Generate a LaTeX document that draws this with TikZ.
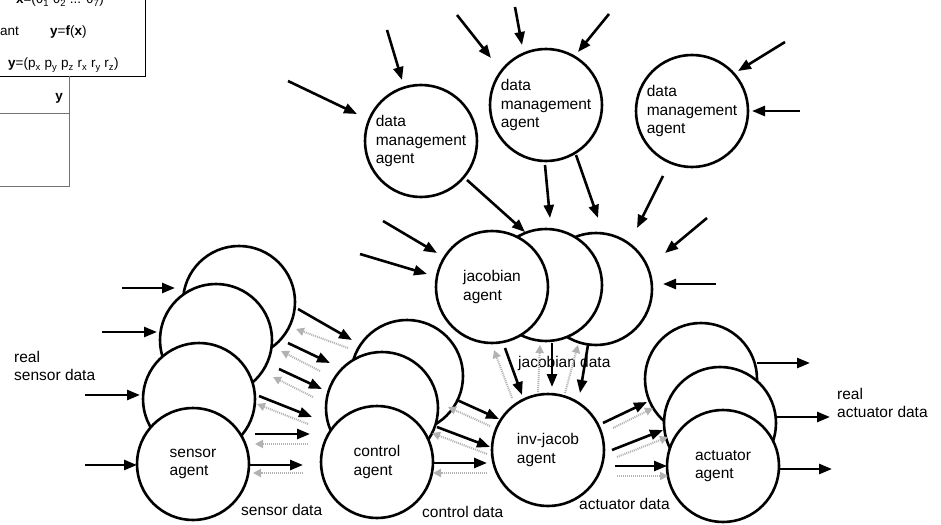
\documentclass[tikz,border=0pt]{standalone}
\usepackage{fontspec}
\setmainfont{Liberation Sans}
\usetikzlibrary{arrows.meta, calc}

\tikzset{
  agent/.style={circle, draw, line width=2.6pt, fill=white, minimum size=112pt,
    inner sep=0pt, align=left},
  flow/.style={line width=2.6pt, -{Triangle[length=13pt,width=10pt]}},
  reply/.style={gray!60, line width=2pt, dash pattern=on 1pt off 1pt,
    -{Triangle[length=8pt,width=8pt]}},
  lbl/.style={inner sep=0pt, align=left, anchor=west},
  tbl/.style={inner sep=0pt, font=\fontsize{13.5}{16}\selectfont},
}

\begin{document}
\begin{tikzpicture}[x=1pt, y=-1pt, font=\fontsize{15.5}{18.5}\selectfont]
\useasboundingbox (0,0) rectangle (941,524);
\clip (0,0) rectangle (941,524);
\fill[white] (0,0) rectangle (941,524);

% cut-off table in the corner
\draw[line width=0.8pt] (-20,-20) rectangle (145,76);
\draw[black!55, line width=0.8pt] (-20,113) -- (69,113) (69,76) -- (69,186) -- (-20,186);
\node[tbl, anchor=base] (tJoint) at (60,4) {\textbf{x}=(θ\textsubscript{1} θ\textsubscript{2} ... θ\textsubscript{7})};
\node[tbl, anchor=base west] (tAnt) at (0,36) {ant};
\node[tbl, anchor=base west] (tFun) at (50,36) {\textbf{y}=\textbf{f}(\textbf{x})};
\node[tbl, anchor=base west] (tPose) at (8,68) {\textbf{y}=(p\textsubscript{x} p\textsubscript{y} p\textsubscript{z} r\textsubscript{x} r\textsubscript{y} r\textsubscript{z})};
\node[tbl, anchor=base east] (tHead) at (63,101) {\textbf{y}};

% data management agents
\node[agent] (dm1) at (421,141) {data\\management\\agent};
\node[agent] (dm2) at (546,105) {data\\management\\agent};
\node[agent] (dm3) at (692,111) {data\\management\\agent};

% sensor stack, back to front
\node[agent] (sensD) at (239,302) {};
\node[agent] (sensC) at (216,340) {};
\node[agent] (sensB) at (199,399) {};
\node[agent] (sens) at (193,464) {sensor\\agent};

% control stack
\node[agent] (ctrlC) at (407,376) {};
\node[agent] (ctrlB) at (382,408) {};
\node[agent] (ctrl) at (377,462) {control\\agent};

% jacobian stack
\node[agent] (jacC) at (596,289) {};
\node[agent] (jacB) at (546,285) {};
\node[agent] (jac) at (492,287) {jacobian\\agent};

\node[agent] (inv) at (548,450) {inv-jacob\\agent};

% actuator stack
\node[agent] (actC) at (701,379) {};
\node[agent] (actB) at (720,423) {};
\node[agent] (act) at (723,466) {actuator\\agent};

% labels
\node[lbl] (realS) at (14,366) {real\\sensor data};
\node[lbl] (sensLbl) at (241,510) {sensor data};
\node[lbl] (ctrlLbl) at (422,512) {control data};
\node[lbl] (actLbl) at (579,504) {actuator data};
\node[lbl] (jacLbl) at (518,363) {jacobian data};
\node[lbl] (realA) at (837,403) {real\\actuator data};

% free ends
\coordinate (inS1) at (122,288);
\coordinate (inS2) at (102,332);
\coordinate (inS3) at (85,395);
\coordinate (inS4) at (85,465);
\coordinate (outA1) at (810,363);
\coordinate (outA2) at (830,417);
\coordinate (outA3) at (832,469);
\coordinate (inJ1) at (707,218);
\coordinate (inJ2) at (716,284);
\coordinate (inJ3) at (383,221);
\coordinate (inJ4) at (360,254);
\coordinate (inD1) at (288,81);
\coordinate (inD2) at (387,30);
\coordinate (inD3) at (457,15);
\coordinate (inD4) at (515,7);
\coordinate (inD5) at (609,14);
\coordinate (inD6) at (785,42);
\coordinate (inD7) at (800,111);

% real sensor data in
\draw[flow] (inS1) -- ($(sensD)+(-64,-14)$);
\draw[flow] (inS2) -- ($(sensC)+(-59,-8)$);
\draw[flow] (inS3) -- ($(sensB)+(-59,-4)$);
\draw[flow] (inS4) -- ($(sens)+(-56,1)$);

% sensor data
\draw[flow] ($(sensD)+(59,7)$) -- ($(ctrlC)+(-55,-36)$);
\draw[reply] ($(ctrlC)+(-59,-28)$) -- ($(sensD)+(57,27)$);
\draw[flow] ($(sensD)+(49,41)$) -- ($(ctrlB)+(-52,-45)$);
\draw[reply] ($(ctrlB)+(-62,-37)$) -- ($(sensC)+(65,11)$);
\draw[flow] ($(sensC)+(63,29)$) -- ($(ctrlB)+(-60,-19)$);
\draw[reply] ($(ctrlB)+(-69,-11)$) -- ($(sensC)+(57,37)$);
\draw[flow] ($(sensB)+(60,-3)$) -- ($(ctrlB)+(-70,9)$);
\draw[reply] ($(ctrlB)+(-74,16)$) -- ($(sensB)+(58,5)$);
\draw[flow] ($(sensB)+(56,35)$) -- ($(ctrl)+(-67,-28)$);
\draw[reply] ($(ctrl)+(-69,-18)$) -- ($(sens)+(62,-20)$);
\draw[flow] ($(sens)+(56,1)$) -- ($(ctrl)+(-74,3)$);
\draw[reply] ($(ctrl)+(-74,11)$) -- ($(sens)+(60,9)$);

% control data
\draw[flow] ($(ctrlC)+(50,24)$) -- ($(inv)+(-49,-31)$);
\draw[reply] ($(inv)+(-58,-24)$) -- ($(ctrlC)+(41,31)$);
\draw[flow] ($(ctrlB)+(55,19)$) -- ($(inv)+(-58,-3)$);
\draw[reply] ($(inv)+(-61,4)$) -- ($(ctrlB)+(50,25)$);
\draw[flow] ($(ctrl)+(56,1)$) -- ($(inv)+(-61,13)$);
\draw[reply] ($(inv)+(-61,23)$) -- ($(ctrl)+(56,11)$);

% actuator data
\draw[flow] ($(inv)+(55,-27)$) -- ($(actC)+(-54,23)$);
\draw[reply] ($(inv)+(65,-22)$) -- ($(actC)+(-48,29)$);
\draw[flow] ($(inv)+(64,0)$) -- ($(actB)+(-57,7)$);
\draw[reply] ($(inv)+(69,7)$) -- ($(actB)+(-52,14)$);
\draw[flow] ($(inv)+(67,16)$) -- ($(act)+(-56,0)$);
\draw[reply] ($(inv)+(69,26)$) -- ($(act)+(-55,10)$);

% real actuator data out
\draw[flow] ($(actC)+(56,-16)$) -- (outA1);
\draw[flow] ($(actB)+(55,-6)$) -- (outA2);
\draw[flow] ($(act)+(55,3)$) -- (outA3);

% jacobian data
\draw[flow] ($(jac)+(13,61)$) -- ($(inv)+(-26,-55)$);
\draw[flow] ($(jacB)+(6,58)$) -- ($(inv)+(4,-63)$);
\draw[flow] ($(jacC)+(-8,56)$) -- ($(inv)+(32,-57)$);
\draw[reply] ($(inv)+(-36,-52)$) -- ($(jac)+(2,63)$);
\draw[reply] ($(inv)+(-10,-58)$) -- ($(jacB)+(-6,60)$);
\draw[reply] ($(inv)+(17,-57)$) -- ($(jacC)+(-18,56)$);

% data management to jacobian
\draw[flow] ($(dm1)+(46,39)$) -- ($(jacB)+(-21,-53)$);
\draw[flow] ($(dm2)+(-1,60)$) -- ($(jacB)+(4,-67)$);
\draw[flow] ($(dm2)+(30,50)$) -- ($(jacC)+(2,-71)$);
\draw[flow] ($(dm3)+(-29,65)$) -- ($(jacC)+(41,-61)$);

% other jacobian inputs
\draw[flow] (inJ1) -- ($(jacC)+(69,-36)$);
\draw[flow] (inJ2) -- ($(jacC)+(67,-5)$);
\draw[flow] (inJ3) -- ($(jac)+(-55,-34)$);
\draw[flow] (inJ4) -- ($(jac)+(-65,-13)$);

% data management inputs
\draw[flow] (inD1) -- ($(dm1)+(-64,-27)$);
\draw[flow] (inD2) -- ($(dm1)+(-19,-61)$);
\draw[flow] (inD3) -- ($(dm2)+(-55,-47)$);
\draw[flow] (inD4) -- ($(dm2)+(-24,-60)$);
\draw[flow] (inD5) -- ($(dm2)+(32,-53)$);
\draw[flow] (inD6) -- ($(dm3)+(46,-40)$);
\draw[flow] (inD7) -- ($(dm3)+(60,0)$);
\end{tikzpicture}
\end{document}
